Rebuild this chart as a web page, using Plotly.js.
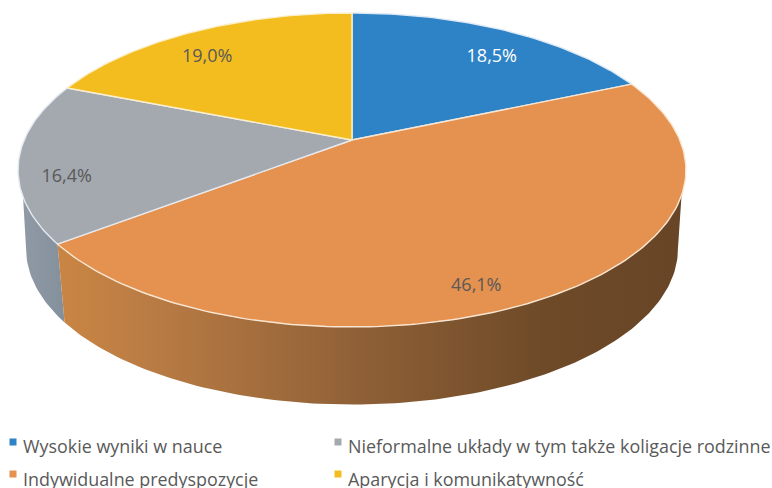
<!DOCTYPE html>
<html><head><meta charset="utf-8">
<script src="https://cdn.plot.ly/plotly-3.0.1.min.js"></script>
<style>html,body{margin:0;padding:0;background:#fff;overflow:hidden}#c{width:772px;height:488px}</style>
</head><body><div id="c"></div>
<script>
const categories=["Wysokie wyniki w nauce","Indywidualne predyspozycje","Nieformalne układy w tym także koligacje rodzinne","Aparycja i komunikatywność"];
const values=[18.5,46.1,16.4,19.0];
const valueLabels=["18,5%","46,1%","16,4%","19,0%"];
const colors=["#2e83c6","#e5914f","#a4a8af","#f4bd1f"];
const edgeColors=["#dfeaf5","#f9e6d2","#e4e9f0","#fbeecb"];
const labelColors=["#ffffff","#595959","#595959","#595959"];
const labelRadius=[0.79,0.87,0.863,0.80];
const labelShift=[3.9,8.8,-7.3,-4.0];
const legendX=[13,13,338,338], legendY=[442,474,442,474], legendTextY=[449,482,449,482], legendOrder=[0,1,2,3];

// projection of the tilted disc onto the page
const CX=352,CY=140,RX=327.8,RY=151.3,K=0.191,SC=0.976,DEPTH=79,DEPTH_NEAR=3;
const rad=d=>d*Math.PI/180;
function topPt(deg,r=1){const X=r*Math.sin(rad(deg)),Y=r*Math.cos(rad(deg)),w=1+K*Y;
  return [CX+RX*X/w,CY-RY*Y/w];}
function lowPt(deg){const p=topPt(deg);return [CX+(p[0]-CX)*SC,CY+(p[1]-CY)*SC+DEPTH-DEPTH_NEAR*Math.cos(rad(deg))];}
function arc(fn,a,b){const n=Math.max(4,Math.ceil(Math.abs(b-a)));const o=[];
  for(let i=0;i<=n;i++)o.push(fn(a+(b-a)*i/n));return o;}

const total=values.reduce((s,v)=>s+v,0);
let acc=0;const starts=[],ends=[];
values.forEach(v=>{starts.push(acc/total*360);acc+=v;ends.push(acc/total*360);});

const traces=[];
function poly(pts,extra){traces.push(Object.assign({type:'scatter',mode:'lines',x:pts.map(p=>p[0]),y:pts.map(p=>p[1]),
  fill:'toself',hoverinfo:'skip',showlegend:false},extra));}

// side walls: visible arc limits for the slices that face the viewer
const wallStyle={
 1:{grad:{type:'horizontal',colorscale:[[0,'#c98543'],[0.12,'#bd7e45'],[0.5,'#8d5f36'],[0.78,'#6e4a28'],[1,'#684526']]},topFrom:110,lowTo:101},
 2:{grad:{type:'horizontal',colorscale:[[0,'#909aa5'],[0.5,'#8a95a1'],[1,'#83909c']]},topTo:249.4,lowFrom:259}
};
{ // grey wall
  const s=wallStyle[2],a=starts[2];
  const pts=arc(topPt,a,s.topTo).concat(arc(lowPt,s.lowFrom,a));pts.push(pts[0]);
  poly(pts,{line:{width:0,color:'rgba(0,0,0,0)'},fillcolor:colors[2],fillgradient:s.grad});
}
{ // orange wall
  const s=wallStyle[1],b=ends[1];
  const pts=arc(topPt,s.topFrom,b).concat(arc(lowPt,b,s.lowTo));pts.push(pts[0]);
  poly(pts,{line:{width:0,color:'rgba(0,0,0,0)'},fillcolor:colors[1],fillgradient:s.grad});
}
// top faces
values.forEach((v,i)=>{
  const pts=[[CX,CY]].concat(arc(topPt,starts[i],ends[i]));pts.push([CX,CY]);
  poly(pts,{line:{width:1.4,color:edgeColors[i]},fillcolor:colors[i]});
});
// value labels
const lp=values.map((v,i)=>topPt((starts[i]+ends[i])/2+labelShift[i],labelRadius[i]));
traces.push({type:'scatter',mode:'text',x:lp.map(p=>p[0]),y:lp.map(p=>p[1]+2),text:valueLabels,
  textposition:'middle center',textfont:{family:'Open Sans',size:18,color:labelColors},hoverinfo:'skip',showlegend:false});
// legend
traces.push({type:'scatter',mode:'markers',x:legendX,y:legendY,marker:{symbol:'square',size:7,color:colors},hoverinfo:'skip',showlegend:false});
traces.push({type:'scatter',mode:'text',x:legendX.map(x=>x+10),y:legendTextY,text:legendOrder.map(i=>categories[i]),
  textposition:'middle right',textfont:{family:'Open Sans',size:17.9,color:'#595959'},hoverinfo:'skip',showlegend:false});

Plotly.newPlot('c',traces,{width:772,height:488,margin:{l:0,r:0,t:0,b:0},paper_bgcolor:'#fff',plot_bgcolor:'#fff',showlegend:false,
  xaxis:{range:[0,772],visible:false,fixedrange:true},yaxis:{range:[488,0],visible:false,fixedrange:true}},{displayModeBar:false,staticPlot:true});
</script></body></html>
